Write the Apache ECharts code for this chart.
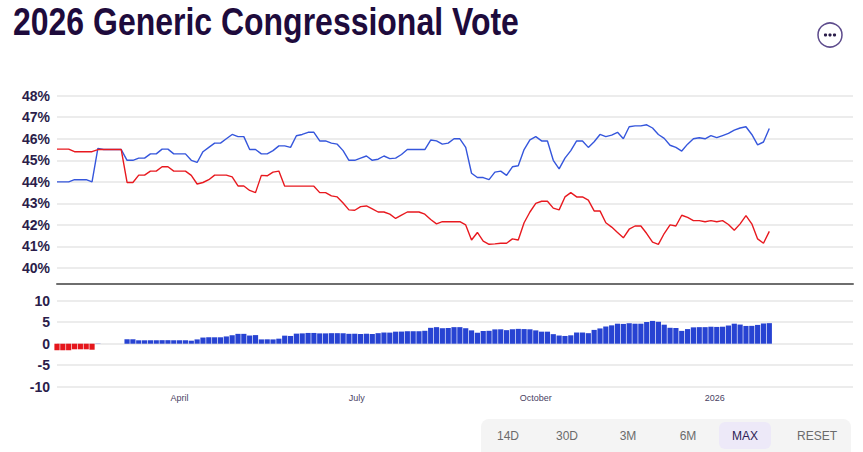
<!DOCTYPE html>
<html><head><meta charset="utf-8">
<script src="https://cdn.jsdelivr.net/npm/echarts@6/dist/echarts.min.js"></script>
<style>html,body{margin:0;padding:0;background:#fff}#c{width:863px;height:452px}</style>
</head><body><div id="c"></div>
<script>
const titleText = '2026 Generic Congressional Vote';
const dates = ['2025-01-28','2025-01-31','2025-02-03','2025-02-06','2025-02-09','2025-02-12','2025-02-15','2025-02-18','2025-02-21','2025-02-24',
'2025-02-27','2025-03-02','2025-03-05','2025-03-08','2025-03-11','2025-03-14','2025-03-17','2025-03-20','2025-03-23','2025-03-26',
'2025-03-29','2025-04-01','2025-04-04','2025-04-07','2025-04-10','2025-04-13','2025-04-16','2025-04-19','2025-04-22','2025-04-25',
'2025-04-28','2025-05-01','2025-05-04','2025-05-07','2025-05-10','2025-05-13','2025-05-16','2025-05-19','2025-05-22','2025-05-25',
'2025-05-28','2025-05-31','2025-06-03','2025-06-06','2025-06-09','2025-06-12','2025-06-15','2025-06-18','2025-06-21','2025-06-24',
'2025-06-27','2025-06-30','2025-07-03','2025-07-06','2025-07-09','2025-07-12','2025-07-15','2025-07-18','2025-07-21','2025-07-24',
'2025-07-27','2025-07-30','2025-08-02','2025-08-05','2025-08-08','2025-08-11','2025-08-14','2025-08-17','2025-08-20','2025-08-23',
'2025-08-26','2025-08-29','2025-09-01','2025-09-04','2025-09-07','2025-09-10','2025-09-13','2025-09-16','2025-09-19','2025-09-22',
'2025-09-25','2025-09-28','2025-10-01','2025-10-04','2025-10-07','2025-10-10','2025-10-13','2025-10-16','2025-10-19','2025-10-22',
'2025-10-25','2025-10-28','2025-10-31','2025-11-03','2025-11-06','2025-11-09','2025-11-12','2025-11-15','2025-11-18','2025-11-21',
'2025-11-24','2025-11-27','2025-11-30','2025-12-03','2025-12-06','2025-12-09','2025-12-12','2025-12-15','2025-12-18','2025-12-21',
'2025-12-24','2025-12-27','2025-12-30','2026-01-02','2026-01-05','2026-01-08','2026-01-11','2026-01-14','2026-01-17','2026-01-20',
'2026-01-23','2026-01-26','2026-01-29'];
const dem = [44.0,44.0,44.0,44.1,44.1,44.1,44.0,45.55,45.5,45.5,
45.5,45.5,45.0,45.0,45.1,45.1,45.3,45.3,45.52,45.52,
45.3,45.3,45.3,45.0,44.9,45.4,45.6,45.8,45.8,46.0,
46.2,46.1,46.1,45.5,45.5,45.3,45.3,45.45,45.67,45.67,
45.6,46.14,46.2,46.3,46.3,45.9,45.9,45.8,45.75,45.45,
45.0,45.0,45.1,45.2,45.0,45.05,45.2,45.08,45.1,45.27,
45.5,45.5,45.5,45.5,45.94,45.9,45.75,45.8,46.0,46.0,
45.6,44.4,44.2,44.2,44.1,44.45,44.5,44.3,44.7,44.75,
45.5,45.95,46.1,45.9,45.9,45.0,44.6,45.1,45.45,45.9,
45.9,45.6,45.86,46.2,46.1,46.17,46.3,46.0,46.56,46.6,
46.6,46.65,46.5,46.2,46.02,45.7,45.6,45.43,45.75,46.0,
46.05,46.0,46.15,46.05,46.15,46.25,46.4,46.5,46.56,46.2,
45.72,45.85,46.48];
const rep = [45.52,45.52,45.52,45.4,45.4,45.4,45.4,45.5,45.5,45.5,
45.5,45.5,43.97,43.97,44.31,44.31,44.5,44.5,44.7,44.7,
44.5,44.5,44.5,44.3,43.9,43.97,44.1,44.31,44.31,44.31,
44.23,43.81,43.81,43.6,43.5,44.3,44.28,44.45,44.5,43.8,
43.8,43.8,43.8,43.8,43.8,43.5,43.5,43.35,43.3,43.02,
42.7,42.68,42.85,42.88,42.75,42.6,42.6,42.5,42.3,42.45,
42.6,42.6,42.6,42.5,42.25,42.05,42.15,42.15,42.15,42.15,
42.0,41.3,41.65,41.25,41.1,41.12,41.15,41.15,41.35,41.3,
42.1,42.6,43.0,43.1,43.1,42.78,42.7,43.3,43.5,43.3,
43.3,43.15,42.65,42.65,42.1,41.9,41.65,41.4,41.8,41.95,
41.95,41.6,41.2,41.1,41.6,42.0,41.95,42.45,42.35,42.2,
42.2,42.15,42.2,42.15,42.2,42.02,41.75,42.05,42.43,42.05,
41.35,41.15,41.7];
const tickDates = ['2025-04-01','2025-07-01','2025-10-01','2026-01-01'];
const tickLabels = ['April','July','October','2026'];
const buttons = ['14D','30D','3M','6M','MAX','RESET'];
const activeButton = 'MAX';

function toTime(s){const p=s.split('-').map(Number);return new Date(p[0],p[1]-1,p[2]).getTime();}
const tickTimes = tickDates.map(toTime);
const xMin = toTime('2025-01-28'), xMax = toTime('2026-03-13');

const demLine = dates.map((d,i)=>[toTime(d), dem[i]]);
const repLine = dates.map((d,i)=>[toTime(d), rep[i]]);
const spreadBars = dates.map((d,i)=>{
  const m = +(dem[i]-rep[i]).toFixed(2);
  return {value:[toTime(d),m], itemStyle:{color: m>=0 ? '#2743d2' : '#e5161c'}};
});

const FONT = '"Liberation Sans", Arial, sans-serif';
const btnX = [508,567,628,688,745,817];
const graphics = [
  {type:'text', x:13, y:22, scaleX:0.82, style:{text:titleText, font:'bold 39px "Liberation Sans", Arial, sans-serif', fill:'#1e0b3c', textAlign:'left', textVerticalAlign:'middle', verticalAlign:'middle'}},
  {type:'circle', shape:{cx:830, cy:35, r:12}, style:{fill:'#fff', stroke:'#5d4b8c', lineWidth:1.5}},
  {type:'circle', shape:{cx:825.5, cy:35, r:1.6}, style:{fill:'#2b1d4a'}},
  {type:'circle', shape:{cx:830, cy:35, r:1.6}, style:{fill:'#2b1d4a'}},
  {type:'circle', shape:{cx:834.5, cy:35, r:1.6}, style:{fill:'#2b1d4a'}},
  {type:'rect', shape:{x:481, y:419, width:370, height:40, r:8}, style:{fill:'#f4f4f4'}},
];
buttons.forEach((b,i)=>{
  if (b === activeButton) {
    graphics.push({type:'rect', shape:{x:btnX[i]-26, y:422, width:52, height:27, r:6}, style:{fill:'#ede9f8'}});
  }
  graphics.push({type:'text', x:btnX[i], y:436, style:{text:b, fill: b===activeButton ? '#2e1d55' : '#6b6b6b', font:'12px '+FONT, textAlign:'center', textVerticalAlign:'middle', verticalAlign:'middle'}});
});

function labelFor(v){let best=-1,bd=Infinity;tickTimes.forEach((t,i)=>{const d=Math.abs(t-v);if(d<bd){bd=d;best=i;}});return bd<86400000*2?tickLabels[best]:'';}

const chart = echarts.init(document.getElementById('c'), null, {renderer:'svg'});
chart.setOption({
  animation:false,
  backgroundColor:'#fff',
  grid:[
    {left:57, right:10, top:95.7, height:172.3, containLabel:false},
    {left:57, right:10, top:300.7, height:86, containLabel:false}
  ],
  xAxis:[
    {type:'value', gridIndex:0, min:xMin, max:xMax, scale:true,
      axisLine:{show:true, onZero:false, lineStyle:{color:'#6e6e6e', width:2}}, offset:16,
      axisTick:{show:false}, axisLabel:{show:false}, splitLine:{show:false}},
    {type:'value', gridIndex:1, min:xMin, max:xMax, scale:true,
      axisLine:{show:false}, axisTick:{show:false}, splitLine:{show:false},
      axisLabel:{show:true, customValues:tickTimes, fontSize:9, color:'#4a3f63', fontFamily:FONT, margin:7,
        hideOverlap:false, formatter:labelFor}}
  ],
  yAxis:[
    {type:'value', gridIndex:0, min:40, max:48, interval:1,
      axisLine:{show:false}, axisTick:{show:false},
      axisLabel:{formatter:'{value}%', fontSize:14, fontWeight:'bold', color:'#2b1d4a', fontFamily:FONT, margin:7},
      splitLine:{show:true, lineStyle:{color:'#e6e6e6', width:1.5}}},
    {type:'value', gridIndex:1, min:-10, max:10, interval:5,
      axisLine:{show:false}, axisTick:{show:false},
      axisLabel:{fontSize:14, fontWeight:'bold', color:'#2b1d4a', fontFamily:FONT, margin:7},
      splitLine:{show:true, lineStyle:{color:'#e6e6e6', width:1.5}}}
  ],
  series:[
    {name:'Democrats', type:'line', xAxisIndex:0, yAxisIndex:0, data:demLine, showSymbol:false, symbol:'none',
      lineStyle:{color:'#3556dc', width:1.4}, itemStyle:{color:'#3556dc'}},
    {name:'Republicans', type:'line', xAxisIndex:0, yAxisIndex:0, data:repLine, showSymbol:false, symbol:'none',
      lineStyle:{color:'#e8191f', width:1.4}, itemStyle:{color:'#e8191f'}},
    {name:'Spread', type:'bar', xAxisIndex:1, yAxisIndex:1, data:spreadBars, barWidth:5.2}
  ],
  graphic:graphics
});
</script></body></html>
